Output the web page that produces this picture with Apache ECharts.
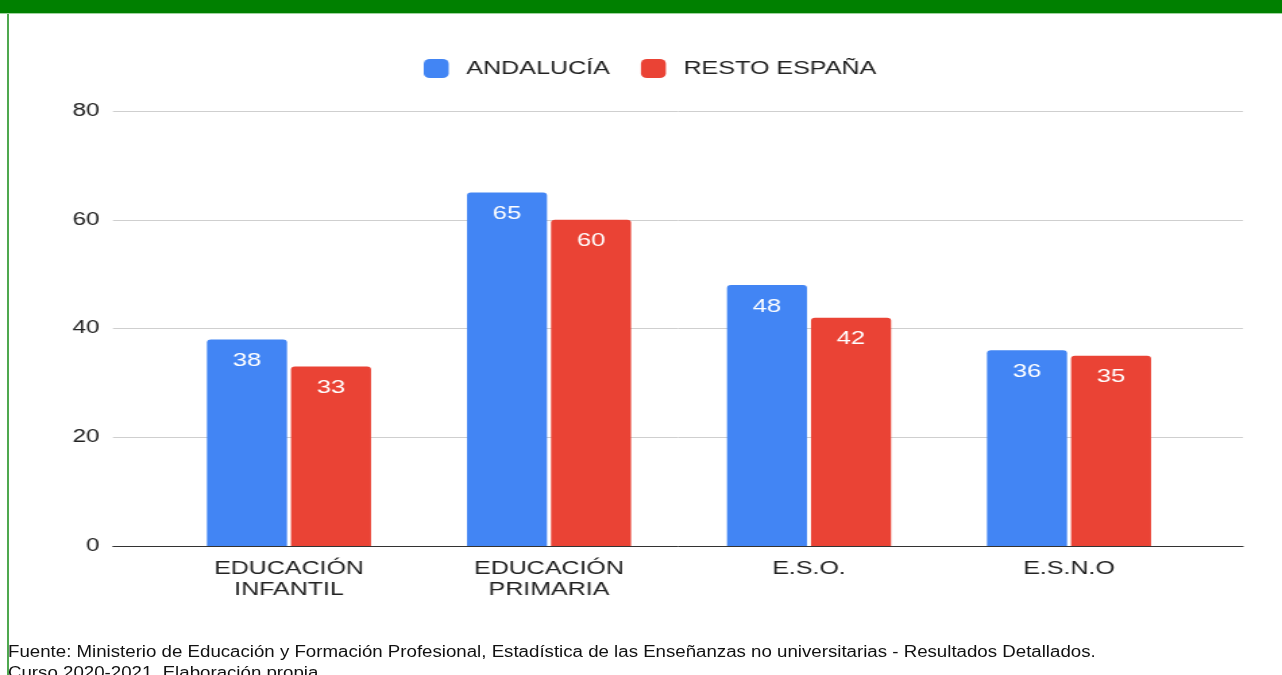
<!DOCTYPE html>
<html>
<head>
<meta charset="utf-8">
<script src="https://cdn.jsdelivr.net/npm/echarts@6/dist/echarts.min.js"></script>
<style>
	html, body { margin: 0; padding: 0; background: #fff; overflow: hidden; }
	body { width: 1282px; height: 675px; position: relative; font-family: 'Liberation Sans', Arial, sans-serif; }
	.topbar { position: absolute; left: 0; top: 0; width: 1282px; height: 13px; background: #008000; border-bottom: 1px solid #9fd49f; }
	.leftline { position: absolute; left: 7px; top: 14px; width: 2px; height: 661px; background: #4fa84f; }
	/* the reference picture is stretched sideways, so the chart is drawn narrow and widened */
	#chart { position: absolute; left: 0; top: 0; width: 950px; height: 675px; transform: scaleX(1.3495); transform-origin: 0 0; }
	.note { position: absolute; left: 8px; top: 641px; font-size: 16px; line-height: 21px; color: #111; white-space: nowrap; transform: scaleX(1.167); transform-origin: 0 0; }
</style>
</head>
<body>
<div id="chart"></div>
<div class="topbar"></div>
<div class="leftline"></div>
<div class="note">Fuente: Ministerio de Educación y Formación Profesional, Estadística de las Enseñanzas no universitarias - Resultados Detallados.<br>Curso 2020-2021. Elaboración propia.</div>
<script>
	var categories = ['EDUCACIÓN\nINFANTIL', 'EDUCACIÓN\nPRIMARIA', 'E.S.O.', 'E.S.N.O'];
	var seriesNames = ['ANDALUCÍA', 'RESTO ESPAÑA'];
	var andalucia = [38, 65, 48, 36];
	var restoEspana = [33, 60, 42, 35];
	var yMin = 0, yMax = 80, yStep = 20;

	var colorList = ['#4285f4', '#ea4335'];
	var font = "'Liberation Sans', Arial, sans-serif";

	var chart = echarts.init(document.getElementById('chart'));

	function barSeries(name, data, color) {
		return {
			name: name,
			type: 'bar',
			xAxisIndex: 1,
			yAxisIndex: 1,
			barWidth: 59.3,
			barGap: '5%',
			itemStyle: {
				color: color,
				borderRadius: [3, 3, 0, 0]
			},
			label: {
				show: true,
				position: 'insideTop',
				distance: 12,
				color: '#fff',
				fontFamily: font,
				fontSize: 19
			},
			data: data
		};
	}

	var option = {
		backgroundColor: '#fff',
		animation: false,
		color: colorList,
		legend: {
			left: 314,
			top: 59,
			padding: 0,
			itemWidth: 18.5,
			itemHeight: 19,
			itemGap: 23,
			icon: 'roundRect',
			data: seriesNames,
			textStyle: {
				color: '#222',
				fontFamily: font,
				fontSize: 18.6,
				padding: [3, 0, 0, 8]
			}
		},
		grid: [
			{ left: 83.7, right: 28.9, top: 111, bottom: 129 },
			{ left: 117.8, right: 61.5, top: 111, bottom: 129 }
		],
		xAxis: [
			{
				gridIndex: 0,
				type: 'category',
				data: [''],
				axisTick: { show: false },
				axisLabel: { show: false },
				axisLine: { lineStyle: { color: '#333', width: 1 } }
			},
			{
				gridIndex: 1,
				type: 'category',
				data: categories,
				axisTick: { show: false },
				axisLine: { show: false },
				axisLabel: {
					interval: 0,
					margin: 12,
					color: '#222',
					fontFamily: font,
					fontSize: 18.5,
					lineHeight: 21
				}
			}
		],
		yAxis: [
			{
				gridIndex: 0,
				type: 'value',
				min: yMin,
				max: yMax,
				interval: yStep,
				axisLine: { show: false },
				axisTick: { show: false },
				axisLabel: {
					margin: 10,
					color: '#222',
					fontFamily: font,
					fontSize: 18,
					padding: [6, 0, 0, 0]
				},
				splitLine: { lineStyle: { color: '#cfcfcf' } }
			},
			{
				gridIndex: 1,
				type: 'value',
				min: yMin,
				max: yMax,
				interval: yStep,
				show: false,
				splitLine: { show: false }
			}
		],
		series: [
			barSeries(seriesNames[0], andalucia, colorList[0]),
			barSeries(seriesNames[1], restoEspana, colorList[1])
		]
	};
	chart.setOption(option);
</script>
</body>
</html>
